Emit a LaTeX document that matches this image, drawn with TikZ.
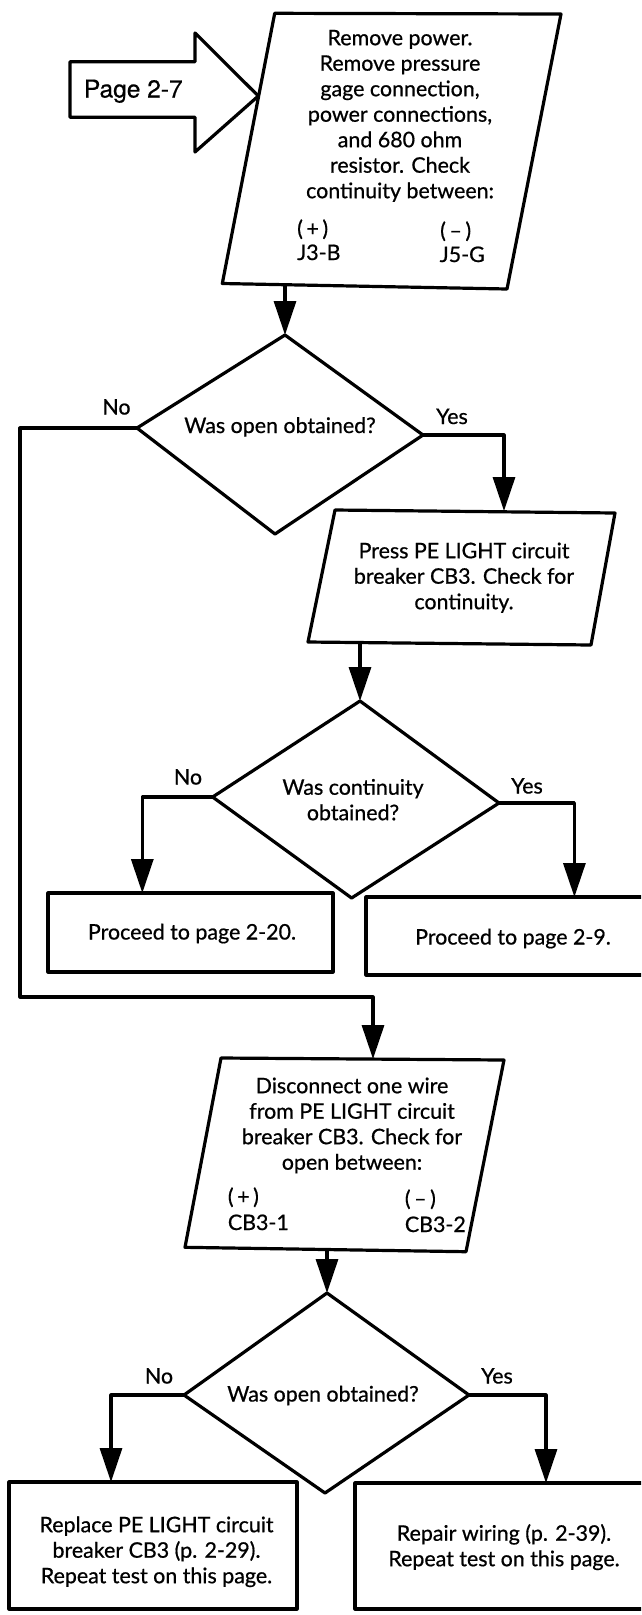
\documentclass[tikz,border=0pt]{standalone}
\usepackage{fontspec}
\setmainfont{Lato}[FakeBold=0.7]
\newfontfamily\pagefont{TeX Gyre Heros}[FakeBold=0.5]
\usetikzlibrary{arrows.meta}
\newcommand\flowfont{\fontsize{21.4}{25.5}\selectfont}
\newcommand\tstrut{\rule{0pt}{17pt}}

\begin{document}
\begin{tikzpicture}[x=1pt,y=-1pt,
  outline/.style={draw=black, line width=3.2pt, line join=round},
  flow/.style={draw=black, line width=3.2pt, line join=round,
    -{Triangle[length=34pt,width=22pt]}},
  txt/.style={font=\flowfont, inner sep=0pt, align=center, anchor=north},
  lbl/.style={font=\flowfont, inner sep=0pt, anchor=base},
  lblw/.style={font=\flowfont, inner sep=0pt, anchor=base west},
  pagetxt/.style={font=\pagefont\fontsize{24.5}{29}\selectfont, inner sep=0pt, anchor=base},
]
\useasboundingbox (0,0) rectangle (641,1615);
\fill[white] (0,0) rectangle (641,1615);
\clip (0,0) rectangle (641,1615);

% ---- entry arrow "Page 2-7"
\coordinate (pagetip) at (258.3,96);
\draw[outline] (70,61.7) -- (195,61.7) -- (195,33) -- (pagetip)
  -- (195,152) -- (195,117.3) -- (70,117.3) -- cycle;
\node[pagetxt] (pagelbl) at (133.3,97.5) {Page 2-7};

% ---- step 1
\coordinate (p1tl) at (274.7,13.3);
\coordinate (p1tr) at (561,14);
\coordinate (p1br) at (507,289);
\coordinate (p1bl) at (222.3,283.5);
\coordinate (p1out) at (285,285);
\draw[outline] (p1tl) -- (p1tr) -- (p1br) -- (p1bl) -- cycle;
\node[txt] (p1text) at (400,28) {\tstrut Remove power.\\Remove pressure\\gage connection,\\power connections,\\and 680 ohm\\resistor. Check\\continuity between:};
\node[lblw] (p1plus) at (297,236) {(\,+\,)};
\node[lblw] (p1pin) at (297,260) {J3-B};
\node[lblw] (p1minus) at (440,238) {(\,–\,)};
\node[lblw] (p1nin) at (439.5,262) {J5-G};

% ---- decision 1
\coordinate (d1t) at (285,335);
\coordinate (d1l) at (137,428);
\coordinate (d1r) at (423,435);
\coordinate (d1b) at (275,534);
\draw[outline] (d1t) -- (d1r) -- (d1b) -- (d1l) -- cycle;
\node[lbl] (d1q) at (280,433) {Was open obtained?};
\node[lbl] (d1no) at (116.5,414.5) {No};
\node[lbl] (d1yes) at (452,424) {Yes};

% ---- step 2
\coordinate (p2tl) at (335,510);
\coordinate (p2tr) at (615,513);
\coordinate (p2br) at (591,645);
\coordinate (p2bl) at (308,642);
\coordinate (p2in) at (504,511);
\coordinate (p2out) at (360,643);
\draw[outline] (p2tl) -- (p2tr) -- (p2br) -- (p2bl) -- cycle;
\node[txt] (p2text) at (464,541) {\tstrut Press PE LIGHT circuit\\breaker CB3. Check for\\continuity.};

% ---- decision 2
\coordinate (d2t) at (360,701);
\coordinate (d2l) at (212.6,797);
\coordinate (d2r) at (499,803);
\coordinate (d2b) at (351.6,898);
\draw[outline] (d2t) -- (d2r) -- (d2b) -- (d2l) -- cycle;
\node[txt] (d2q) at (353,777.5) {\tstrut Was continuity\\obtained?};
\node[lbl] (d2no) at (188,784.5) {No};
\node[lbl] (d2yes) at (527,793.5) {Yes};

% ---- outcomes of decision 2
\coordinate (b1in) at (142.3,893);
\coordinate (b2in) at (574.4,897);
\draw[outline] (48,893) rectangle (333,972);
\draw[outline] (366,897) rectangle (660,975);
\node[lbl] (b1text) at (192,939.5) {Proceed to page 2-20.};
\node[lbl] (b2text) at (513,944.5) {Proceed to page 2-9.};

% ---- step 3
\coordinate (nloop) at (20,997);
\coordinate (p3tl) at (221,1058);
\coordinate (p3tr) at (504,1060);
\coordinate (p3br) at (466,1251.7);
\coordinate (p3bl) at (185,1247.3);
\coordinate (p3in) at (373,1059);
\coordinate (p3out) at (327,1249.5);
\draw[outline] (p3tl) -- (p3tr) -- (p3br) -- (p3bl) -- cycle;
\node[txt] (p3text) at (352,1076) {\fontsize{21.4}{25}\selectfont\tstrut Disconnect one wire\\from PE LIGHT circuit\\breaker CB3. Check for\\open between:};
\node[lblw] (p3plus) at (227.7,1204) {(\,+\,)};
\node[lblw] (p3pin) at (227.7,1230) {CB3-1};
\node[lblw] (p3minus) at (404.7,1206) {(\,–\,)};
\node[lblw] (p3nin) at (404.7,1232) {CB3-2};

% ---- decision 3
\coordinate (d3t) at (327,1293);
\coordinate (d3l) at (184,1395);
\coordinate (d3r) at (469,1395);
\coordinate (d3b) at (325,1493);
\draw[outline] (d3t) -- (d3r) -- (d3b) -- (d3l) -- cycle;
\node[lbl] (d3q) at (323,1401.5) {Was open obtained?};
\node[lbl] (d3no) at (159,1383.5) {No};
\node[lbl] (d3yes) at (497,1383.5) {Yes};

% ---- outcomes of decision 3
\coordinate (b3in) at (111,1482);
\coordinate (b4in) at (546,1483);
\draw[outline] (9,1482) rectangle (297,1609);
\draw[outline] (355,1483) rectangle (660,1609);
\node[txt] (b3text) at (156.5,1515) {\tstrut Replace PE LIGHT circuit\\breaker CB3 (p. 2-29).\\Repeat test on this page.};
\node[txt] (b4text) at (504,1523.5) {\tstrut Repair wiring (p. 2-39).\\Repeat test on this page.};

% ---- connectors
\draw[flow] (p1out) -- (d1t);
\draw[flow] (d1r) -| (p2in);
\draw[flow] (p2out) -- (d2t);
\draw[flow] (d2l) -| (b1in);
\draw[flow] (d2r) -| (b2in);
\draw[flow] (d1l) -| (nloop) -| (p3in);
\draw[flow] (p3out) -- (d3t);
\draw[flow] (d3l) -| (b3in);
\draw[flow] (d3r) -| (b4in);
\end{tikzpicture}
\end{document}
